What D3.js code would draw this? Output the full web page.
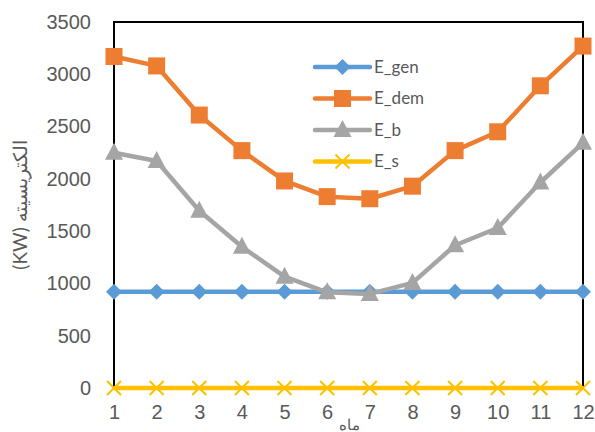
<!DOCTYPE html>
<html>
<head>
<meta charset="utf-8">
<script src="https://cdn.jsdelivr.net/npm/d3@7"></script>
<style>
  body { margin: 0; background: #fff; }
  svg { font-family: Lato, "Open Sans", sans-serif; }
</style>
</head>
<body>
<div id="chart"></div>
<script>
// chart data
const months = [1, 2, 3, 4, 5, 6, 7, 8, 9, 10, 11, 12];
const eGen = [920, 920, 920, 920, 920, 920, 920, 920, 920, 920, 920, 920];
const eDem = [3170, 3080, 2610, 2270, 1980, 1830, 1810, 1930, 2270, 2450, 2890, 3270];
const eB = [2250, 2170, 1695, 1350, 1065, 915, 900, 1005, 1365, 1530, 1965, 2345];
const eS = [0, 0, 0, 0, 0, 0, 0, 0, 0, 0, 0, 0];
const yTicks = [0, 500, 1000, 1500, 2000, 2500, 3000, 3500];
const seriesNames = ['E_gen', 'E_dem', 'E_b', 'E_s'];

const series = [
  { name: seriesNames[0], values: eGen, color: '#5B9BD5', marker: 'diamond' },
  { name: seriesNames[1], values: eDem, color: '#ED7D31', marker: 'square' },
  { name: seriesNames[2], values: eB, color: '#A5A5A5', marker: 'triangle' },
  { name: seriesNames[3], values: eS, color: '#FFC000', marker: 'cross' }
];

const width = 595, height = 432;
const margin = { top: 22, right: 12, bottom: 44, left: 114 };
const plotW = 583 - margin.left;
const plotH = 388 - margin.top;

const svg = d3.select('#chart').append('svg')
  .attr('width', width)
  .attr('height', height);

const x = d3.scaleLinear().domain([1, 12]).range([0, plotW]);
const y = d3.scaleLinear().domain([0, 3500]).range([plotH, 0]);

const chart = svg.append('g')
  .attr('transform', `translate(${margin.left}, ${margin.top})`);

// frame
chart.append('rect')
  .attr('x', 0).attr('y', 0)
  .attr('width', plotW).attr('height', plotH)
  .attr('fill', 'none')
  .attr('stroke', '#000')
  .attr('stroke-width', 2);

// axes (labels only)
const yAxis = chart.append('g')
  .call(d3.axisLeft(y).tickValues(yTicks).tickFormat(d3.format('d')).tickSize(0).tickPadding(23));
yAxis.select('.domain').remove();
yAxis.selectAll('text')
  .attr('fill', '#595959')
  .style('font-size', '20px');

const xAxis = chart.append('g')
  .attr('transform', `translate(0, ${plotH})`)
  .call(d3.axisBottom(x).tickValues(months).tickFormat(d3.format('d')).tickSize(0).tickPadding(17));
xAxis.select('.domain').remove();
xAxis.selectAll('text')
  .attr('fill', '#595959')
  .style('font-size', '20px');

// axis titles
svg.append('text')
  .attr('transform', 'translate(27, 205) rotate(-90)')
  .attr('text-anchor', 'middle')
  .attr('fill', '#595959')
  .style('font-size', '19px')
  .text('(KW) الکتریسیته');

svg.append('text')
  .attr('x', 349)
  .attr('y', 430)
  .attr('text-anchor', 'middle')
  .attr('fill', '#595959')
  .style('font-size', '15px')
  .text('ماه');

function markerPath(type) {
  if (type === 'diamond') return 'M0,-8L8,0L0,8L-8,0Z';
  if (type === 'square') return 'M-8.5,-8.5H8.5V8.5H-8.5Z';
  if (type === 'triangle') return 'M0,-10L9,7H-9Z';
  return 'M-7,-7L7,7M-7,7L7,-7';
}

function drawMarker(g, s) {
  const p = g.append('path').attr('d', markerPath(s.marker));
  if (s.marker === 'cross') {
    p.attr('fill', 'none').attr('stroke', s.color).attr('stroke-width', 2);
  } else {
    p.attr('fill', s.color);
  }
}

const line = d3.line()
  .x((d, i) => x(months[i]))
  .y(d => y(d));

series.forEach(s => {
  const g = chart.append('g');
  g.append('path')
    .datum(s.values)
    .attr('d', line)
    .attr('fill', 'none')
    .attr('stroke', s.color)
    .attr('stroke-width', 4.5)
    .attr('stroke-linejoin', 'round');

  g.selectAll('.pt')
    .data(s.values)
    .enter()
    .append('g')
    .attr('class', 'pt')
    .attr('transform', (d, i) => `translate(${x(months[i])}, ${y(d)})`)
    .each(function () { drawMarker(d3.select(this), s); });
});

// legend
const legend = svg.append('g');
series.forEach((s, i) => {
  const row = legend.append('g')
    .attr('transform', `translate(315, ${67 + i * 31.5})`);
  row.append('line')
    .attr('x1', 0).attr('x2', 55)
    .attr('stroke', s.color)
    .attr('stroke-width', 4.5)
    .attr('stroke-linecap', 'round');
  const m = row.append('g').attr('transform', 'translate(27.5, 0)');
  drawMarker(m, s);
  row.append('text')
    .attr('x', 59)
    .attr('dy', '0.35em')
    .attr('fill', '#595959')
    .style('font-size', '17px')
    .text(s.name);
});
</script>
</body>
</html>
